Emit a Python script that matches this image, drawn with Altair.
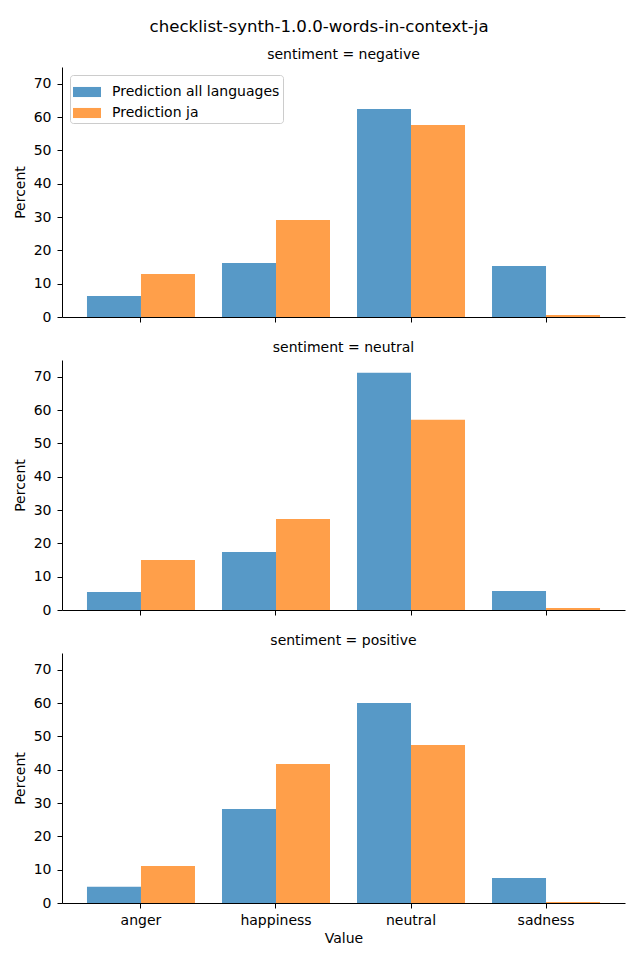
import altair as alt
import pandas as pd

categories = ["anger", "happiness", "neutral", "sadness"]
series_names = ["Prediction all languages", "Prediction ja"]
sentiments = ["negative", "neutral", "positive"]

neg_all = [6.3, 16.2, 62.4, 15.3]
neg_ja = [12.9, 29.1, 57.6, 0.6]
neu_all = [5.4, 17.4, 71.2, 5.7]
neu_ja = [15.0, 27.3, 57.1, 0.6]
pos_all = [4.9, 28.2, 60.0, 7.5]
pos_ja = [11.1, 41.7, 47.4, 0.3]

values = {
    "negative": (neg_all, neg_ja),
    "neutral": (neu_all, neu_ja),
    "positive": (pos_all, pos_ja),
}

colors = ["#5799c7", "#ff9f4a"]
FONT = "DejaVu Sans"


def panel(sent, first, last):
    a, j = values[sent]
    rows = []
    for c, va, vj in zip(categories, a, j):
        rows.append({"Value": c, "series": series_names[0], "Percent": va})
        rows.append({"Value": c, "series": series_names[1], "Percent": vj})
    df = pd.DataFrame(rows)
    if first:
        legend = alt.Legend(
            title=None, orient="top-left", offset=8, padding=3,
            strokeColor="#cccccc", fillColor="white", cornerRadius=3,
            labelFontSize=14, labelFont=FONT, labelColor="black", labelLimit=400,
            symbolType="M-1,-0.36H1V0.36H-1Z", symbolSize=784,
            symbolStrokeWidth=0, symbolOpacity=1, rowPadding=0,
            labelOffset=11,
        )
    else:
        legend = None
    xaxis = alt.Axis(
        labels=last, title="Value" if last else None, labelAngle=0,
        labelFontSize=14, titleFontSize=14, labelFont=FONT, titleFont=FONT,
        labelColor="black", titleColor="black", tickColor="black",
        domainColor="black", tickSize=5, labelPadding=5, titlePadding=4,
        titleFontWeight="normal",
    )
    yaxis = alt.Axis(
        values=[0, 10, 20, 30, 40, 50, 60, 70], grid=False, title="Percent",
        labelFontSize=14, titleFontSize=14, labelFont=FONT, titleFont=FONT,
        labelColor="black", titleColor="black", tickColor="black",
        domainColor="black", tickSize=5, labelPadding=6, titlePadding=6,
        titleFontWeight="normal",
    )
    return alt.Chart(df).mark_bar().encode(
        x=alt.X("Value:N", sort=categories, axis=xaxis,
                scale=alt.Scale(paddingInner=0.2, paddingOuter=0.185)),
        xOffset=alt.XOffset("series:N", sort=series_names,
                            scale=alt.Scale(paddingInner=0, paddingOuter=0)),
        y=alt.Y("Percent:Q", axis=yaxis, scale=alt.Scale(domain=[0, 75], nice=False)),
        color=alt.Color("series:N", sort=series_names, legend=legend,
                        scale=alt.Scale(domain=series_names, range=colors)),
    ).properties(
        width=563, height=250,
        title=alt.TitleParams(f"sentiment = {sent}", fontSize=14, fontWeight="normal",
                              font=FONT, color="black", offset=5),
    )


charts = [panel(s, i == 0, i == 2) for i, s in enumerate(sentiments)]

chart = alt.vconcat(*charts, spacing=17).resolve_scale(color="independent").properties(
    title=alt.TitleParams("checklist-synth-1.0.0-words-in-context-ja", fontSize=16.6,
                          fontWeight="normal", font=FONT, color="black",
                          anchor="middle", offset=12),
    padding={"left": 5, "right": 5, "top": 11, "bottom": 5},
).configure(background="white").configure_view(strokeWidth=0, stroke="transparent")

chart.save("out.html", embed_options={"renderer": "svg", "actions": False})
